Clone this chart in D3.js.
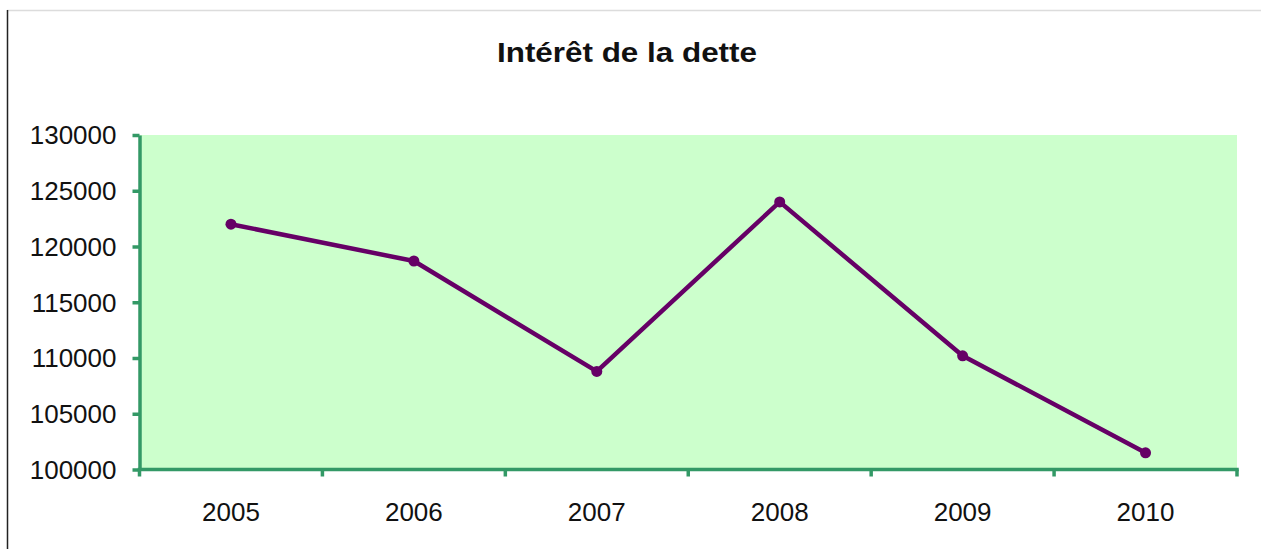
<!DOCTYPE html>
<html>
<head>
<meta charset="utf-8">
<script src="https://cdn.jsdelivr.net/npm/d3@7"></script>
<style>
  body { margin: 0; background: #fff; }
  svg { display: block; font-family: "Liberation Sans", Arial, sans-serif; }
</style>
</head>
<body>
<div id="root"></div>
<script>
var years = ["2005", "2006", "2007", "2008", "2009", "2010"];
var interet = [122000, 118700, 108800, 124000, 110200, 101500];
var yTicks = [100000, 105000, 110000, 115000, 120000, 125000, 130000];
var title = "Intérêt de la dette";

var w = 1261, h = 549;
var plot = { left: 139.5, right: 1237, top: 135, bottom: 469.5 };
var axisColor = "#339966";

var svg = d3.select("#root").append("svg").attr("width", w).attr("height", h);

// frame lines
svg.append("line").attr("x1", 7).attr("x2", w).attr("y1", 10.5).attr("y2", 10.5)
  .attr("stroke", "#dcdcdc").attr("stroke-width", 1.5);
svg.append("line").attr("x1", 7.5).attr("x2", 7.5).attr("y1", 10).attr("y2", h)
  .attr("stroke", "#222").attr("stroke-width", 1.5);

// scales
var xScale = d3.scaleBand().domain(years).range([plot.left, plot.right]).padding(0);
var yScale = d3.scaleLinear().domain([100000, 130000]).range([plot.bottom, plot.top]);

// plot area
svg.append("rect").attr("x", plot.left).attr("y", plot.top)
  .attr("width", plot.right - plot.left).attr("height", plot.bottom - plot.top)
  .attr("fill", "#ccffcc");

// title
svg.append("text").attr("x", 627).attr("y", 62).attr("text-anchor", "middle")
  .style("font-size", "28px").style("font-weight", "bold").attr("fill", "#111")
  .attr("textLength", 260).attr("lengthAdjust", "spacingAndGlyphs")
  .text(title);

// y axis
var yAxis = d3.axisLeft(yScale).tickValues(yTicks).tickSize(7).tickSizeOuter(0)
  .tickPadding(16).tickFormat(d3.format("d"));
var gy = svg.append("g").attr("transform", "translate(" + plot.left + ",0)").call(yAxis);
gy.select(".domain").attr("stroke", axisColor).attr("stroke-width", 3.5);
gy.selectAll(".tick line").attr("stroke", axisColor).attr("stroke-width", 3.5);
gy.selectAll(".tick text").attr("fill", "#111").style("font-size", "26px")
  .attr("dy", "0.34em");

// x axis (labels centred, ticks at category boundaries)
var xAxis = d3.axisBottom(xScale).tickSize(0).tickSizeOuter(0).tickPadding(33);
var gx = svg.append("g").attr("transform", "translate(0," + plot.bottom + ")").call(xAxis);
gx.select(".domain").attr("stroke", axisColor).attr("stroke-width", 3.5)
  .attr("d", "M" + (plot.left - 1.75) + ",0H" + (plot.right + 1.75));
gx.selectAll(".tick text").attr("fill", "#111").style("font-size", "26px");
var bounds = years.map(function(d) { return xScale(d); }).concat([xScale.range()[1]]);
gx.selectAll(".bound").data(bounds).enter().append("line").attr("class", "bound")
  .attr("x1", function(d) { return d; }).attr("x2", function(d) { return d; })
  .attr("y1", 0).attr("y2", 7).attr("stroke", axisColor).attr("stroke-width", 3.5);

// line + markers
var cx = function(d, i) { return xScale(years[i]) + xScale.bandwidth() / 2; };
var line = d3.line().x(cx).y(function(d) { return yScale(d); });
svg.append("path").datum(interet).attr("d", line).attr("fill", "none")
  .attr("stroke", "#660066").attr("stroke-width", 4.5).attr("stroke-linejoin", "round");
svg.selectAll("circle").data(interet).enter().append("circle")
  .attr("cx", cx).attr("cy", function(d) { return yScale(d); })
  .attr("r", 5.5).attr("fill", "#660066");
</script>
</body>
</html>
